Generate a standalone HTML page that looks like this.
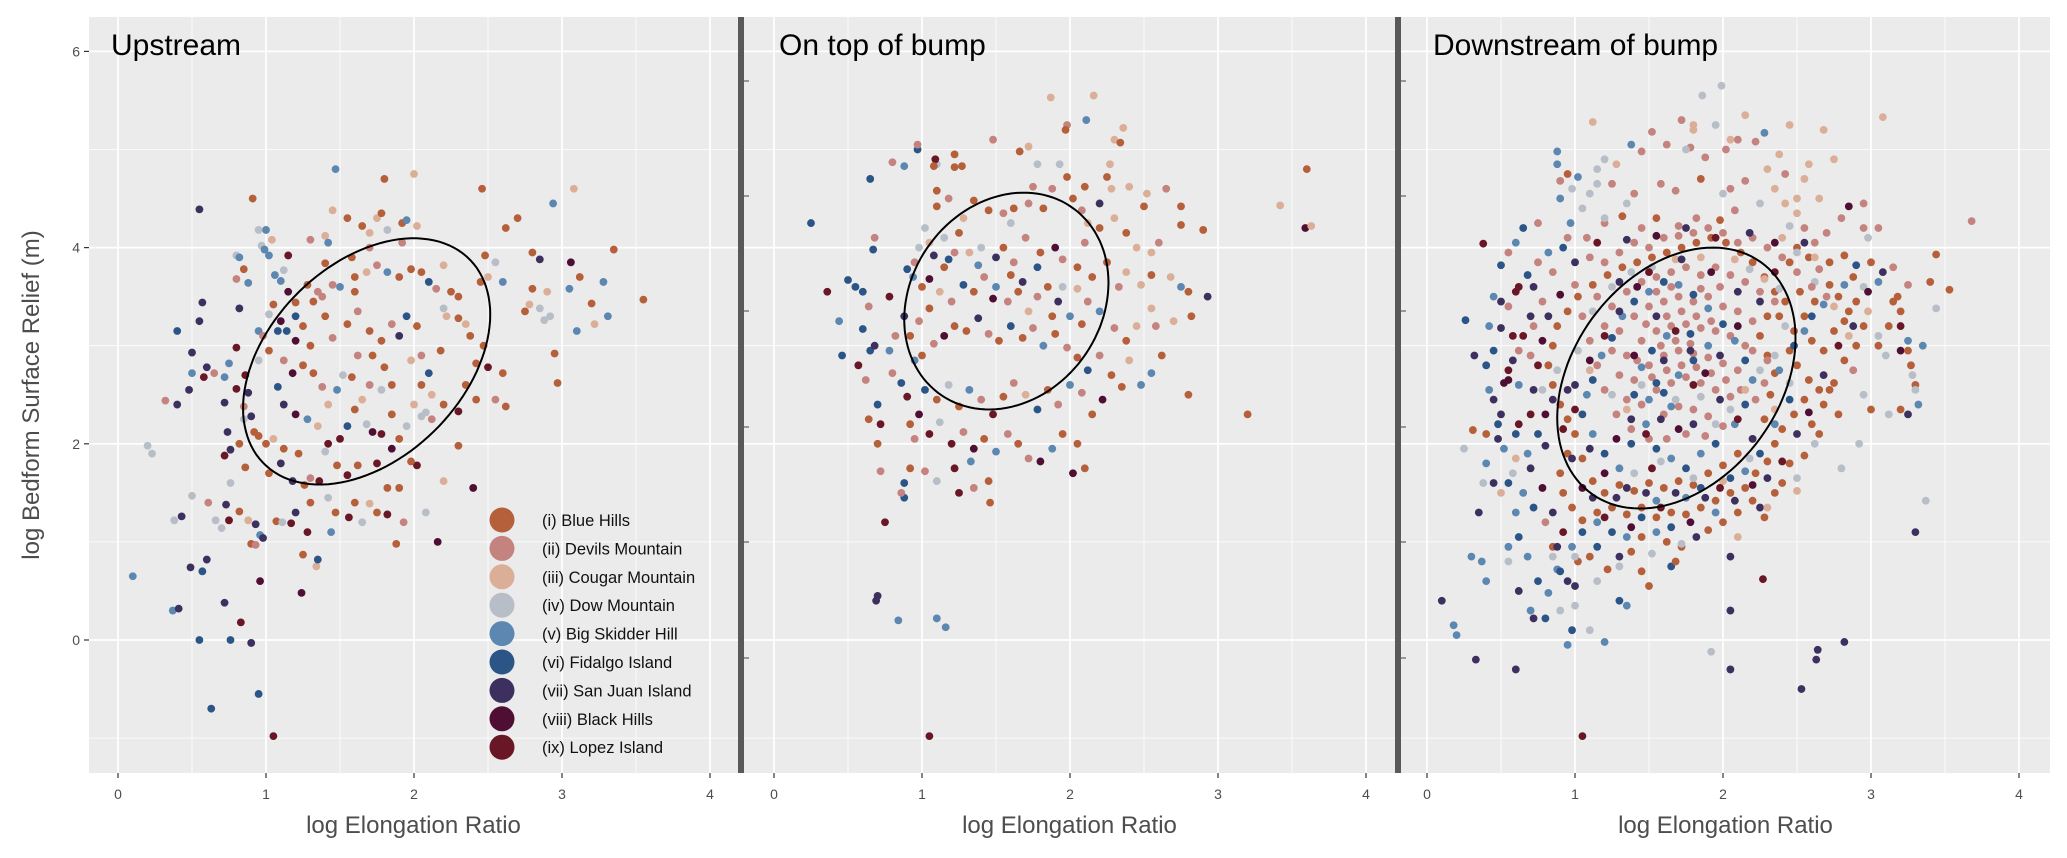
<!DOCTYPE html>
<html><head><meta charset="utf-8"><style>
html,body{margin:0;padding:0;background:#fff;}
svg{display:block;font-family:"Liberation Sans",Arial,sans-serif;}
</style></head><body>
<svg id="chart" width="2067" height="858" viewBox="0 0 2067 858" xmlns="http://www.w3.org/2000/svg">
<g id="bg"></g><g id="grid"></g><g id="pts"></g><g id="ells"></g><g id="axes"></g><g id="legend"></g>
</svg>
<script>
// ---- data ----
const panelTitles = ["Upstream", "On top of bump", "Downstream of bump"];
const siteNames = ["(i) Blue Hills","(ii) Devils Mountain","(iii) Cougar Mountain","(iv) Dow Mountain","(v) Big Skidder Hill","(vi) Fidalgo Island","(vii) San Juan Island","(viii) Black Hills","(ix) Lopez Island"];
const siteColors = ["#b5603a","#c4837f","#dbae98","#b7bec7","#5b87b1","#2b5487","#3d305f","#4f0f34","#691726"];
const xTicks = [0,1,2,3,4];
const yTicks = [0,2,4,6];
const ellCx = [1.68, 1.57, 1.685];
const ellCy = [2.84, 3.455, 2.67];
const ellAx = [0.835, 0.69, 0.805];
const ellAy = [1.255, 1.105, 1.33];
const ellPhi = [1.18, 1.4, 1.26];
// points as x, y, site triples
const upstreamPts = [
0.1,0.65,4, 0.2,1.98,3, 0.23,1.9,3, 0.32,2.44,1, 0.37,0.3,4, 0.41,0.32,6, 0.4,3.15,5, 0.55,4.39,6, 0.55,0.0,5, 0.63,-0.7,5, 0.95,-0.55,5, 1.05,-0.98,8,
0.91,4.5,0, 1.47,4.8,4, 1.8,4.7,0, 2.0,4.75,2, 2.46,4.6,0, 3.08,4.6,2, 2.94,4.45,4, 3.55,3.47,0, 3.35,3.98,0, 3.28,3.65,4, 3.31,3.3,4, 2.16,1.0,7,
2.4,1.55,7, 0.96,0.6,7, 0.83,0.18,8, 0.72,0.38,6, 0.9,-0.03,6, 0.76,0.0,5, 0.57,0.7,5, 0.6,0.82,6, 0.49,0.74,6, 1.88,0.98,0, 1.25,0.87,0, 1.34,0.75,2,
1.35,0.82,5, 1.24,0.48,7, 0.38,1.22,3, 0.43,1.26,6, 0.5,1.47,3, 0.61,1.4,1, 0.66,1.22,3, 0.7,1.14,3, 0.73,1.38,6, 0.75,1.22,8, 0.76,1.6,3, 0.82,1.31,0,
0.88,1.22,2, 0.9,0.98,0, 0.93,0.97,1, 0.93,1.18,6, 0.96,1.07,4, 0.98,1.04,6, 1.07,1.21,0, 1.11,1.2,3, 1.17,1.19,8, 1.2,1.3,6, 1.28,1.1,8, 1.3,1.4,0,
1.42,1.45,3, 1.44,1.1,4, 1.47,1.3,0, 1.56,1.25,8, 1.6,1.4,0, 1.65,1.2,3, 1.7,1.39,2, 1.75,1.3,0, 1.82,1.28,8, 1.93,1.2,1, 2.08,1.3,3, 2.2,1.62,2,
2.3,1.98,0, 1.9,1.55,0, 1.82,1.55,0, 0.4,2.4,6, 0.48,2.55,6, 0.5,2.72,4, 0.58,2.68,8, 0.6,2.78,6, 0.5,2.93,6, 0.55,3.25,6, 0.57,3.44,6, 0.65,2.72,1,
0.72,2.68,4, 0.75,2.82,4, 0.72,2.42,6, 0.74,2.12,6, 0.76,1.94,6, 0.72,1.88,8, 0.82,2.0,0, 0.85,2.25,3, 0.88,2.52,6, 0.9,2.28,6, 0.92,2.12,0, 0.95,2.08,0,
0.86,1.76,0, 0.85,2.38,1, 0.8,2.56,8, 0.86,2.7,8, 0.8,2.98,8, 0.82,3.38,6, 0.85,3.78,0, 0.8,3.68,1, 0.8,3.92,3, 0.82,3.9,4, 0.88,3.64,4, 0.95,4.18,3,
0.97,4.02,3, 0.99,3.98,4, 1.02,3.92,4, 1.0,4.18,4, 1.04,4.08,2, 1.06,3.72,4, 1.1,3.66,4, 1.12,3.77,3, 1.15,3.92,8, 1.15,3.55,7, 1.2,3.44,0, 1.05,3.42,0,
1.02,3.32,3, 0.95,3.15,4, 1.08,3.15,5, 1.14,3.15,5, 1.2,3.05,7, 1.25,3.2,0, 1.3,3.0,0, 1.32,3.45,0, 1.38,3.5,1, 1.4,3.3,0, 1.45,3.08,1, 1.4,3.84,0,
1.3,4.08,1, 1.4,4.12,2, 1.42,4.05,4, 1.45,4.38,2, 1.55,4.3,0, 1.65,4.22,0, 1.7,4.15,2, 1.75,4.3,2, 1.78,4.35,0, 1.92,4.25,0, 1.95,4.28,4, 2.02,4.22,2,
1.82,4.18,3, 1.92,4.05,1, 1.7,4.0,1, 1.58,3.9,0, 1.6,3.7,0, 1.68,3.75,2, 1.75,3.82,1, 1.82,3.75,4, 1.9,3.7,0, 1.98,3.78,0, 2.05,3.75,0, 2.1,3.65,5,
2.15,3.58,1, 2.2,3.82,2, 2.25,3.55,0, 2.3,3.5,0, 2.22,3.3,2, 2.2,3.38,3, 2.3,3.28,0, 2.38,3.1,0, 2.35,3.22,2, 2.45,3.65,0, 2.5,3.7,2, 2.48,3.92,0,
2.55,3.85,3, 2.6,3.65,4, 2.62,4.2,0, 2.7,4.3,0, 2.8,3.95,0, 2.8,3.58,0, 2.85,3.38,3, 2.9,3.55,2, 2.92,3.3,3, 2.88,3.26,3, 2.78,3.42,2, 2.75,3.35,0,
2.85,3.88,6, 3.06,3.85,7, 3.12,3.7,0, 3.2,3.43,0, 3.05,3.58,4, 3.1,3.15,4, 3.22,3.22,2, 2.95,2.92,0, 2.97,2.62,0, 2.55,2.45,1, 2.6,2.72,0, 2.62,2.38,0,
2.5,2.78,8, 2.47,3.0,0, 2.42,2.82,0, 2.35,2.6,0, 2.42,2.45,0, 2.3,2.33,8, 2.2,2.4,0, 2.12,2.25,1, 2.08,2.32,3, 2.0,2.4,2, 2.05,2.6,0, 2.1,2.72,5,
2.18,2.95,0, 2.05,2.9,1, 1.98,2.85,2, 1.9,3.1,6, 1.95,3.3,5, 2.02,3.2,0, 1.85,3.22,1, 1.78,3.05,0, 1.7,3.15,0, 1.62,3.35,1, 1.55,3.22,0, 1.62,2.9,1,
1.72,2.9,0, 1.8,2.78,0, 1.85,2.6,0, 1.78,2.55,3, 1.7,2.6,1, 1.65,2.45,2, 1.58,2.68,0, 1.52,2.7,3, 1.48,2.55,4, 1.42,2.4,2, 1.38,2.58,1, 1.32,2.72,0,
1.25,2.8,0, 1.18,2.72,7, 1.12,2.85,1, 1.08,2.58,5, 1.12,2.4,6, 1.2,2.3,7, 1.28,2.25,4, 1.35,2.18,2, 1.42,2.0,8, 1.5,2.05,8, 1.55,2.18,5, 1.6,2.35,0,
1.68,2.2,3, 1.72,2.12,7, 1.78,2.1,8, 1.85,2.3,0, 1.9,2.05,0, 1.95,2.18,3, 1.85,1.95,7, 1.75,1.8,8, 1.62,1.78,0, 1.55,1.68,8, 1.48,1.78,0, 1.4,1.92,3,
1.3,1.65,1, 1.22,1.9,0, 1.12,1.95,0, 1.05,2.05,2, 1.0,2.0,0, 1.1,1.8,6, 1.02,1.7,0, 1.18,1.62,6, 1.26,1.58,0, 1.36,1.62,8, 2.02,1.78,8, 1.98,1.82,0,
2.05,2.28,3, 2.12,2.5,2, 1.6,3.55,0, 1.5,3.6,4, 1.45,3.62,1, 1.35,3.55,1, 1.28,3.62,0, 1.2,3.3,5, 1.1,3.25,7, 1.02,2.95,0, 0.98,3.1,1, 0.95,2.85,3
];
const bumpPts = [
0.25,4.25,5, 0.36,3.55,8, 0.5,3.67,5, 0.55,3.6,5, 0.6,3.55,5, 0.65,2.95,5, 0.6,3.17,5, 0.7,0.45,6, 0.69,0.4,6, 0.84,0.2,4, 1.1,0.22,4, 1.16,0.13,4,
1.05,-0.98,8, 3.6,4.8,0, 3.42,4.43,2, 3.59,4.2,7, 3.63,4.22,2, 3.2,2.3,0, 2.8,2.5,0, 2.93,3.5,6, 1.87,5.53,2, 2.16,5.55,2, 2.11,5.3,4, 2.36,5.22,2,
0.75,1.2,8, 1.46,1.4,0, 0.88,1.6,5, 0.44,3.25,4, 0.46,2.9,5, 0.57,2.8,8, 0.68,3.0,6, 0.64,3.4,1, 0.68,4.1,1, 0.67,3.98,5, 0.65,4.7,5, 0.8,4.87,1,
0.88,4.83,4, 0.97,5.0,5, 0.97,5.05,1, 1.1,4.85,3, 1.09,4.9,8, 1.08,4.83,0, 1.22,4.82,0, 1.22,4.95,0, 1.27,4.83,0, 1.48,5.1,1, 1.66,4.98,0, 1.72,5.03,2,
1.78,4.85,3, 1.93,4.85,3, 1.98,5.25,1, 1.97,5.2,0, 2.3,5.1,2, 2.34,5.07,0, 2.27,4.85,2, 2.25,4.72,0, 2.28,4.6,2, 2.4,4.62,2, 2.52,4.55,2, 2.65,4.6,1,
2.75,4.42,0, 2.75,4.23,0, 2.9,4.18,0, 2.6,4.05,1, 2.55,3.95,2, 2.45,4.0,2, 2.38,4.15,0, 2.3,4.3,2, 2.2,4.2,0, 2.12,4.25,2, 2.2,4.45,6, 2.08,4.38,1,
2.02,4.5,0, 2.1,4.62,0, 1.98,4.72,0, 1.88,4.6,1, 1.82,4.4,0, 1.72,4.45,1, 1.62,4.4,0, 1.55,4.35,1, 1.45,4.38,0, 1.35,4.48,0, 1.28,4.3,2, 1.18,4.5,1,
1.1,4.58,0, 1.1,4.42,0, 1.02,4.2,3, 1.05,4.05,2, 0.98,4.0,3, 0.95,3.85,1, 0.9,3.78,5, 0.94,3.7,4, 1.0,3.6,0, 1.05,3.68,7, 1.15,3.8,0, 1.22,3.95,1,
1.32,3.95,2, 1.4,4.0,3, 1.5,3.9,6, 1.55,4.0,0, 1.62,3.85,1, 1.7,4.1,1, 1.8,3.95,0, 1.9,4.0,7, 1.95,3.88,1, 2.05,3.8,0, 2.15,3.7,0, 2.25,3.85,0,
2.33,3.6,1, 2.38,3.75,2, 2.48,3.62,2, 2.55,3.72,0, 2.68,3.7,2, 2.75,3.6,4, 2.8,3.55,0, 2.82,3.3,0, 2.7,3.25,2, 2.58,3.2,1, 2.55,3.38,2, 2.45,3.2,2,
2.38,3.05,0, 2.3,3.18,1, 2.2,3.35,4, 2.12,3.45,1, 2.08,3.22,0, 2.0,3.3,4, 1.92,3.45,6, 1.85,3.6,0, 1.78,3.5,1, 1.72,3.35,2, 1.65,3.55,0, 1.58,3.45,1,
1.5,3.6,4, 1.42,3.7,1, 1.35,3.55,0, 1.28,3.62,5, 1.2,3.45,1, 1.12,3.55,2, 1.05,3.38,0, 0.98,3.25,1, 0.92,3.1,0, 0.88,3.3,6, 0.82,3.1,1, 0.78,2.95,4,
0.8,2.72,1, 0.86,2.62,5, 0.9,2.48,8, 0.95,2.85,4, 1.0,2.9,0, 1.08,3.02,1, 1.15,3.1,7, 1.22,3.2,0, 1.3,3.15,0, 1.38,3.28,6, 1.45,3.12,1, 1.52,3.05,0,
1.6,3.2,5, 1.68,3.08,0, 1.75,3.18,1, 1.82,3.0,4, 1.9,3.12,0, 1.98,2.98,1, 2.05,2.88,0, 2.12,2.75,5, 2.2,2.9,1, 2.28,2.7,0, 2.4,2.85,2, 2.48,2.6,4,
2.55,2.72,4, 2.62,2.9,0, 2.35,2.58,0, 2.22,2.45,7, 2.15,2.3,0, 2.08,2.52,1, 2.0,2.6,4, 1.92,2.4,1, 1.85,2.55,0, 1.78,2.35,5, 1.7,2.5,2, 1.62,2.62,1,
1.55,2.48,0, 1.48,2.3,8, 1.4,2.45,1, 1.32,2.55,4, 1.25,2.38,0, 1.18,2.6,3, 1.1,2.45,0, 1.02,2.55,5, 0.98,2.3,7, 0.92,2.2,0, 0.95,2.05,1, 1.05,2.1,8,
1.12,2.22,3, 1.2,2.0,8, 1.28,2.12,1, 1.35,1.95,7, 1.42,2.05,0, 1.5,1.92,4, 1.58,2.1,1, 1.65,2.0,0, 1.72,1.85,1, 1.8,1.82,7, 1.88,1.95,4, 1.95,2.1,0,
2.02,1.7,7, 2.05,2.0,0, 2.1,1.75,0, 1.45,1.62,0, 1.35,1.55,1, 1.22,1.75,8, 1.1,1.62,3, 1.02,1.72,1, 0.92,1.75,0, 0.88,1.45,5, 0.86,1.5,1, 1.25,1.5,8,
1.33,1.82,4, 0.7,2.4,5, 0.7,2.0,0, 0.72,1.72,1, 0.72,2.2,8, 0.62,2.65,1, 0.64,2.25,0, 0.78,3.5,8, 1.15,4.1,3, 1.6,4.25,3, 1.75,4.62,1, 2.5,4.42,0,
1.6,3.72,0, 1.48,3.48,7, 1.68,3.65,6, 1.78,3.8,5, 1.88,3.3,0, 1.95,3.6,3, 2.05,3.58,2, 2.1,4.05,1, 1.25,4.15,0, 1.38,3.82,4, 1.18,3.88,5, 1.08,3.92,6
];
const downPts = [
0.1,0.4,6, 0.18,0.15,4, 0.2,0.05,4, 0.33,-0.2,6, 0.6,-0.3,6, 1.05,-0.98,8, 2.53,-0.5,6, 2.63,-0.2,6, 2.64,-0.1,6, 2.82,-0.02,6, 2.05,-0.3,6, 1.92,-0.12,3,
2.05,0.3,6, 2.27,0.62,8, 3.3,1.1,6, 3.37,1.42,3, 1.86,5.55,3, 1.99,5.65,3, 2.28,5.17,4, 2.15,5.35,2, 3.08,5.33,2, 3.68,4.27,1, 3.44,3.93,0, 3.53,3.57,0,
3.44,3.38,3, 0.38,4.04,8, 0.88,4.98,4, 1.38,5.05,4, 1.12,5.28,2, 0.26,3.26,5, 0.31,2.14,0, 0.4,2.1,0, 0.32,2.9,6, 0.9,4.5,4, 0.97,4.25,4, 1.1,4.55,3,
0.25,1.95,3, 0.4,1.8,4, 0.45,1.6,6, 0.35,1.3,6, 0.37,0.8,4, 0.4,0.6,4, 0.3,0.85,4, 0.55,0.95,4, 0.62,0.5,6, 0.7,0.3,4, 0.72,0.22,6, 0.8,0.22,5,
0.9,0.3,3, 0.95,-0.05,4, 0.98,0.1,5, 1.0,0.35,3, 1.1,0.1,3, 1.2,-0.02,4, 1.3,0.4,5, 1.35,0.35,4, 1.45,0.7,0, 1.5,0.55,0, 1.65,0.75,5, 1.68,0.8,0,
2.05,0.85,6, 2.25,1.35,6, 2.35,1.5,0, 2.5,1.65,3, 2.62,2.0,3, 2.65,2.1,0, 2.78,2.3,0, 2.72,2.55,0, 2.95,2.5,3, 2.88,2.75,1, 3.0,2.35,0, 3.2,2.35,0,
3.3,2.6,0, 3.3,2.55,3, 3.27,2.8,0, 3.2,2.95,7, 3.05,3.0,0, 3.12,3.2,0, 3.15,3.45,0, 3.2,3.35,0, 3.18,3.5,0, 3.35,3.0,4, 3.25,2.95,0, 3.4,3.65,0,
3.0,3.85,0, 2.98,4.1,3, 2.95,4.2,1, 2.8,4.3,1, 2.7,4.15,1, 2.62,4.05,1, 2.55,4.2,1, 2.5,4.35,2, 2.42,4.45,2, 2.35,4.6,2, 2.42,4.75,1, 2.55,4.7,2,
2.58,4.85,2, 2.38,4.95,2, 2.3,4.8,2, 2.22,5.08,1, 2.1,5.1,1, 2.02,5.0,1, 1.88,4.92,1, 1.78,5.02,1, 1.62,5.05,1, 1.8,5.2,2, 1.8,5.25,2, 1.72,5.3,1,
1.52,5.18,1, 1.45,4.98,1, 1.28,4.85,2, 1.15,4.8,3, 1.2,4.9,3, 0.95,4.75,0, 0.9,4.68,1, 1.25,4.65,1, 1.4,4.55,1, 1.58,4.65,1, 1.68,4.58,1, 1.85,4.7,0,
2.05,4.6,1, 2.15,4.68,1, 2.25,4.45,3, 2.08,4.38,1, 1.98,4.28,0, 1.82,4.3,1, 1.7,4.22,1, 1.55,4.3,0, 1.45,4.2,1, 1.32,4.32,0, 1.2,4.25,1, 1.08,4.1,1,
0.92,4.0,5, 0.82,3.95,4, 0.75,3.85,1, 0.72,3.6,6, 0.68,3.72,5, 0.6,3.55,8, 0.55,3.4,1, 0.5,3.18,6, 0.45,2.95,5, 0.55,2.75,8, 0.62,2.6,4, 0.7,2.3,8,
0.75,2.1,5, 0.8,1.98,6, 0.68,1.9,4, 0.6,2.1,5, 0.5,2.3,6, 0.58,1.7,3, 0.65,1.5,4, 0.72,1.35,5, 0.8,1.2,1, 0.85,0.95,0, 0.88,0.72,4, 0.95,0.6,6,
1.02,0.8,0, 1.1,0.85,0, 1.15,0.95,5, 1.22,0.72,0, 1.3,0.85,6, 1.38,0.9,0, 1.45,1.05,0, 1.55,1.1,4, 1.62,1.0,0, 1.72,0.95,0, 1.82,1.05,6, 1.9,1.12,0,
2.0,1.2,0, 2.1,1.3,0, 2.2,1.42,0, 2.28,1.25,0, 2.4,1.6,0, 2.45,1.8,0, 2.55,1.88,0, 2.6,2.2,0, 2.68,2.4,0, 2.75,2.62,0, 2.82,2.85,0, 2.9,3.0,0,
2.95,3.2,0, 2.85,3.35,0, 2.78,3.5,0, 2.72,3.62,0, 2.65,3.78,1, 2.58,3.9,0, 2.5,4.0,0, 2.45,3.85,0, 2.62,3.45,0, 2.55,3.3,0, 2.48,3.15,0, 2.6,3.05,0,
2.68,2.95,0, 2.75,3.15,0, 2.82,3.25,0, 2.9,3.45,0, 2.95,3.6,3, 2.88,3.7,0, 2.82,3.92,0, 2.72,3.85,0, 2.62,3.65,3, 2.52,3.55,0, 2.42,3.45,0, 2.38,3.3,0,
2.45,2.95,0, 2.5,2.8,0, 2.58,2.65,0, 2.65,2.55,0, 2.55,2.45,0, 2.48,2.3,0, 2.4,2.15,0, 2.35,2.0,0, 2.3,1.82,0, 2.22,1.7,0, 2.15,1.55,0, 2.05,1.5,0,
1.95,1.42,0, 1.85,1.35,0, 1.75,1.28,0, 1.65,1.3,0, 1.55,1.25,0, 1.45,1.35,0, 1.35,1.28,0, 1.25,1.35,0, 1.15,1.3,0, 1.05,1.22,0, 0.98,1.35,0, 0.92,1.5,0,
0.9,1.7,0, 0.95,1.9,0, 1.0,2.1,0, 1.05,1.85,0, 1.12,1.62,0, 1.2,1.5,0, 1.3,1.58,0, 1.4,1.52,0, 1.5,1.6,0, 1.6,1.55,0, 1.7,1.62,0, 1.8,1.58,0,
1.9,1.7,0, 2.0,1.78,0, 2.1,1.9,0, 2.2,2.05,0, 2.28,2.25,0, 2.32,2.5,0, 2.35,2.72,0, 2.3,2.9,0, 2.25,3.1,0, 2.3,3.3,0, 2.35,3.55,0, 2.28,3.7,0,
2.2,3.85,0, 2.12,3.95,0, 2.02,4.05,0, 1.92,4.1,0, 1.82,4.05,0, 1.72,4.0,0, 1.62,3.95,0, 1.52,3.9,0, 1.42,3.85,0, 1.32,3.8,0, 1.22,3.72,0, 1.12,3.62,0,
1.02,3.5,0, 0.95,3.35,0, 0.88,3.2,0, 0.85,3.0,0, 0.82,2.8,0, 0.85,2.6,0, 0.9,2.4,0, 0.95,2.25,0,
// Devils Mountain (dense core)
1.1,3.9,1, 1.2,3.85,1, 1.3,3.95,1, 1.4,4.05,1, 1.5,4.0,1, 1.6,4.1,1, 1.7,4.12,1, 1.8,4.15,1, 1.9,4.2,1, 2.0,4.15,1, 2.1,4.05,1, 2.2,4.1,1,
2.3,4.0,1, 2.4,3.9,1, 2.5,3.75,1, 2.6,3.6,1, 2.7,3.5,1, 1.15,3.5,1, 1.25,3.4,1, 1.35,3.55,1, 1.45,3.65,1, 1.55,3.7,1, 1.65,3.75,1, 1.75,3.8,1,
1.85,3.72,1, 1.95,3.8,1, 2.05,3.72,1, 2.15,3.65,1, 2.25,3.55,1, 2.35,3.45,1, 1.2,3.2,1, 1.3,3.15,1, 1.4,3.3,1, 1.5,3.4,1, 1.6,3.45,1, 1.7,3.5,1,
1.8,3.45,1, 1.9,3.5,1, 2.0,3.4,1, 2.1,3.35,1, 2.2,3.25,1, 1.25,2.95,1, 1.35,2.9,1, 1.45,3.05,1, 1.55,3.15,1, 1.65,3.2,1, 1.75,3.22,1, 1.85,3.18,1,
1.95,3.15,1, 2.05,3.1,1, 2.15,3.0,1, 1.3,2.7,1, 1.4,2.65,1, 1.5,2.8,1, 1.6,2.9,1, 1.7,2.95,1, 1.8,2.92,1, 1.9,2.88,1, 2.0,2.82,1, 2.1,2.75,1,
1.35,2.45,1, 1.45,2.4,1, 1.55,2.55,1, 1.65,2.62,1, 1.75,2.68,1, 1.85,2.62,1, 1.95,2.55,1, 2.05,2.48,1, 1.6,2.3,1, 1.7,2.38,1, 1.8,2.35,1, 1.9,2.28,1,
1.58,3.0,1, 1.68,3.05,1, 1.78,3.02,1, 1.48,3.22,1, 1.62,3.3,1, 1.72,3.35,1, 1.82,3.3,1, 1.92,3.25,1, 1.55,3.55,1, 1.65,3.6,1, 1.85,3.58,1, 1.98,3.6,1,
1.42,2.85,1, 1.52,2.68,1, 1.62,2.75,1, 1.72,2.8,1, 1.82,2.78,1, 1.92,2.72,1, 2.02,2.65,1, 2.12,2.55,1, 2.22,2.45,1, 2.28,2.62,1, 2.3,2.85,1, 2.2,2.95,1,
1.0,3.62,1, 1.05,3.3,1, 1.1,3.05,1, 1.15,2.8,1, 1.2,2.55,1, 1.28,2.3,1, 1.38,2.15,1, 1.5,2.05,1, 1.62,2.05,1, 1.75,2.1,1, 1.88,2.08,1, 2.0,2.18,1,
0.95,4.1,1, 0.85,3.75,1, 0.78,3.45,1, 0.72,3.2,1, 0.7,2.9,1, 0.62,2.95,1, 0.55,3.95,1, 0.75,4.25,1, 3.05,4.2,1, 3.15,3.8,1, 3.25,3.62,1, 2.95,4.45,1,
// Cougar Mountain / Dow Mountain
2.4,4.1,2, 2.5,4.5,2, 2.65,4.5,2, 2.75,4.9,2, 2.68,5.2,2, 2.45,5.25,2, 2.05,5.1,2, 1.95,5.25,3, 1.75,5.0,3, 2.0,4.55,3, 2.5,3.95,3, 2.62,3.9,2,
2.75,3.4,2, 2.85,3.1,2, 2.98,3.35,2, 3.05,3.1,3, 3.1,2.9,3, 3.28,2.7,3, 3.12,2.3,3, 2.92,2.0,3, 2.8,1.75,3, 2.5,1.52,2, 2.3,1.35,2, 2.1,1.05,2,
1.72,0.98,3, 1.52,0.88,3, 1.3,0.75,3, 1.15,0.6,3, 1.0,0.85,3, 0.85,0.85,3, 0.55,0.8,3, 0.38,1.6,3, 0.5,1.5,2, 0.6,1.85,2, 0.78,2.55,3, 0.88,2.75,3,
1.02,2.95,3, 1.12,3.35,3, 1.25,3.6,3, 1.38,3.75,3, 1.52,3.8,3, 1.68,3.88,2, 1.85,3.9,2, 2.08,3.88,2, 2.18,3.78,3, 2.28,3.68,2, 2.38,3.58,3, 2.42,3.2,3,
2.35,2.9,3, 2.25,2.75,3, 2.15,2.55,2, 2.05,2.35,3, 1.95,2.2,3, 1.85,2.48,3, 1.68,2.45,3, 1.45,2.6,3, 1.35,2.35,2, 1.25,2.5,3, 1.1,2.75,2, 1.4,1.7,3,
1.58,1.82,3, 1.8,1.65,3, 2.0,1.62,2, 2.18,1.85,3, 2.35,2.35,2, 2.45,2.62,3, 1.2,4.3,3, 1.35,4.45,3, 1.05,4.4,3, 0.98,4.6,3, 1.15,4.65,3, 2.45,4.22,3,
// Big Skidder Hill / Fidalgo Island
0.88,4.85,4, 1.02,4.72,4, 0.65,4.2,5, 0.6,4.05,4, 0.5,3.82,5, 0.45,3.5,4, 0.42,3.2,4, 0.4,2.8,5, 0.42,2.55,4, 0.48,2.2,5, 0.52,1.95,4, 0.55,1.6,5,
0.6,1.3,4, 0.62,1.05,5, 0.68,0.85,4, 0.75,0.6,5, 0.82,0.48,4, 0.9,0.7,5, 0.98,0.95,4, 1.05,1.1,5, 1.15,1.2,4, 1.25,1.1,5, 1.35,1.05,4, 1.45,1.25,5,
1.55,1.42,4, 1.65,1.15,5, 1.75,1.45,4, 1.85,1.55,5, 1.95,1.3,4, 2.05,1.65,5, 2.15,1.72,4, 2.25,1.9,5, 2.35,2.2,4, 2.45,2.45,5, 2.38,2.75,4, 2.48,3.0,5,
2.55,3.15,4, 2.6,3.3,5, 2.68,3.42,4, 2.82,3.62,4, 2.9,3.82,5, 3.05,3.65,4, 3.25,3.05,4, 3.32,2.4,4, 1.05,2.3,5, 1.12,2.1,4, 1.2,1.9,5, 1.3,1.75,4,
1.38,2.0,5, 1.48,2.2,4, 1.55,1.95,5, 1.65,1.85,4, 1.75,1.75,5, 1.85,1.9,4, 1.95,2.0,5, 2.08,2.2,4, 2.15,2.4,5, 2.2,2.65,4, 2.15,2.85,5, 2.08,3.05,4,
2.0,3.22,5, 1.9,3.38,4, 1.8,3.52,5, 1.7,3.62,4, 1.6,3.65,5, 1.5,3.55,4, 1.4,3.45,5, 1.32,3.3,4, 1.25,3.08,5, 1.18,2.9,4, 1.12,2.65,5, 1.08,2.5,4,
1.4,2.5,5, 1.5,2.45,4, 1.6,2.52,5, 1.7,2.7,4, 1.8,2.85,5, 1.9,3.0,4, 1.78,3.12,5, 1.62,3.1,4, 1.52,2.95,5, 1.45,2.78,4, 1.55,2.62,5, 1.65,2.38,4,
// San Juan / Black Hills / Lopez
0.45,2.45,6, 0.52,2.62,7, 0.58,2.85,6, 0.65,3.1,8, 0.7,3.3,6, 0.78,3.05,7, 0.85,2.45,6, 0.92,2.15,8, 0.98,1.85,6, 1.05,1.55,7, 1.12,1.45,6, 1.2,1.25,8,
1.28,1.45,6, 1.38,1.15,7, 1.48,1.5,6, 1.58,1.35,8, 1.68,1.5,6, 1.78,1.2,7, 1.88,1.45,6, 1.98,1.55,8, 2.08,1.42,6, 2.2,1.58,7, 2.3,1.65,6, 2.4,1.82,8,
2.5,2.1,6, 2.58,2.32,7, 2.68,2.7,6, 2.78,3.0,8, 2.88,3.2,6, 2.98,3.55,7, 3.08,3.75,6, 3.2,3.2,8, 3.25,2.3,6, 2.85,4.42,7, 2.55,4.05,6, 2.35,4.05,7,
2.18,4.15,6, 1.95,4.1,8, 1.75,4.2,6, 1.55,4.12,7, 1.35,4.08,6, 1.15,4.05,8, 1.0,3.85,6, 0.9,3.52,7, 0.82,3.3,6, 0.75,2.8,8, 0.72,2.55,6, 0.8,2.3,7,
1.0,2.6,6, 1.1,2.85,7, 1.2,3.1,8, 1.3,3.35,6, 1.42,3.6,7, 1.55,3.3,6, 1.68,3.15,8, 1.78,2.95,6, 1.88,2.72,7, 1.98,2.45,6, 2.1,2.25,8, 2.2,2.05,6,
1.28,2.05,7, 1.38,2.25,6, 1.48,2.1,8, 1.58,2.25,6, 1.7,2.15,7, 1.8,2.2,6, 1.52,1.75,8, 1.35,1.55,6, 1.2,1.7,7, 1.1,1.95,6, 1.0,2.35,8, 0.95,2.55,6,
1.4,2.9,7, 1.6,2.85,6, 1.8,2.6,8, 1.98,2.9,6, 2.1,3.2,7, 2.25,3.45,6, 2.35,3.75,8, 2.1,3.55,6, 1.92,3.75,7, 1.72,3.88,6, 1.5,3.75,8, 1.3,3.65,6,
0.58,3.1,8, 0.62,3.6,8, 0.5,3.45,6, 0.55,2.65,7, 0.48,2.05,6, 0.62,2.2,8, 0.7,1.75,6, 0.78,1.55,7, 0.85,1.3,6, 0.92,1.1,8, 1.0,0.55,6, 0.88,0.95,6
];
const panelData = [upstreamPts, bumpPts, downPts];

// ---- layout ----
const panelLeft = [89, 744, 1401], panelRight = [738, 1395, 2050];
const zeroX = [118, 774, 1427], unitX = 148;
const plotTop = 17, plotBottom = 773;
const zeroY = 640, unitY = 98.1;
const NS = "http://www.w3.org/2000/svg";
function sx(p, v){ return zeroX[p] + v*unitX; }
function sy(v){ return zeroY - v*unitY; }
function mk(tag, attrs, parent, text){
  const e = document.createElementNS(NS, tag);
  for (const k in attrs) e.setAttribute(k, attrs[k]);
  if (text !== undefined) e.textContent = text;
  parent.appendChild(e); return e;
}
const gBg = document.getElementById('bg'), gGrid = document.getElementById('grid'),
      gPts = document.getElementById('pts'), gEll = document.getElementById('ells'),
      gAx = document.getElementById('axes'), gLeg = document.getElementById('legend');

for (let p = 0; p < 3; p++){
  const r = mk('rect', {x: panelLeft[p], y: plotTop, width: panelRight[p]-panelLeft[p], height: plotBottom-plotTop, fill: '#ebebeb'}, gBg);
  
  
  // minor grid
  for (let v = -1; v <= 5; v += 2){
    const l = mk('line', {x1: panelLeft[p], x2: panelRight[p], y1: sy(v), y2: sy(v), stroke: '#fff', 'stroke-width': 0.8}, gGrid);
    
    
  }
  for (let v = 0.5; v < 4; v += 1){
    const l = mk('line', {x1: sx(p,v), x2: sx(p,v), y1: plotTop, y2: plotBottom, stroke: '#fff', 'stroke-width': 0.8}, gGrid);
    
    
  }
  yTicks.forEach(v => {
    const l = mk('line', {x1: panelLeft[p], x2: panelRight[p], y1: sy(v), y2: sy(v), stroke: '#fff', 'stroke-width': 1.7}, gGrid);
    
    
  });
  xTicks.forEach(v => {
    const l = mk('line', {x1: sx(p,v), x2: sx(p,v), y1: plotTop, y2: plotBottom, stroke: '#fff', 'stroke-width': 1.7}, gGrid);
    
    
    const t = mk('line', {x1: sx(p,v), x2: sx(p,v), y1: plotBottom, y2: plotBottom+5, stroke: '#333', 'stroke-width': 1.2}, gAx);
    
    
    const tl = mk('text', {x: sx(p,v), y: 799, 'text-anchor': 'middle', 'font-size': 14, fill: '#4d4d4d'}, gAx, String(v));
    
    
  });
  // points
  const d = panelData[p];
  for (let i = 0; i + 2 < d.length; i += 3){
    const c = mk('circle', {cx: sx(p, d[i]), cy: sy(d[i+1]), r: 3.9, fill: siteColors[d[i+2]]}, gPts);
    
    
  }
  // ellipse
  let path = '';
  for (let k = 0; k <= 120; k++){
    const t = k/120*2*Math.PI;
    const x = sx(p, ellCx[p] + ellAx[p]*Math.cos(t));
    const y = sy(ellCy[p] + ellAy[p]*Math.cos(t - ellPhi[p]));
    path += (k ? 'L' : 'M') + x.toFixed(1) + ',' + y.toFixed(1);
  }
  const e = mk('path', {d: path + 'Z', fill: 'none', stroke: '#000', 'stroke-width': 2}, gEll);
  
  
  const tt = mk('text', {x: [111, 779, 1433][p], y: 55, 'font-size': 30, fill: '#000'}, gAx, panelTitles[p]);
  
  
  const xt = mk('text', {x: (panelLeft[p]+panelRight[p])/2, y: 833, 'text-anchor': 'middle', 'font-size': 24, fill: '#4d4d4d'}, gAx, 'log Elongation Ratio');
  
  
}
// dark separators with small ticks
[738, 1395].forEach(x0 => {
  const b = mk('rect', {x: x0, y: plotTop, width: 6, height: plotBottom-plotTop, fill: '#595959'}, gAx);
  
  
  [81,196,311,427,542,658].forEach(y => {
    const t = mk('line', {x1: x0+6, x2: x0+11, y1: y, y2: y, stroke: '#444', 'stroke-width': 1}, gAx);
    
    
  });
});
// y axis
yTicks.forEach(v => {
  const t = mk('line', {x1: 84, x2: 89, y1: sy(v), y2: sy(v), stroke: '#333', 'stroke-width': 1.2}, gAx);
  
  
  const tl = mk('text', {x: 80, y: sy(v)+5, 'text-anchor': 'end', 'font-size': 14, fill: '#4d4d4d'}, gAx, String(v));
  
  
});
const yt = mk('text', {x: 0, y: 0, transform: 'translate(39,395) rotate(-90)', 'text-anchor': 'middle', 'font-size': 24, fill: '#4d4d4d'}, gAx, 'log Bedform Surface Relief (m)');


// legend
siteNames.forEach((n, i) => {
  const y = 520 + i*28.4;
  const c = mk('circle', {cx: 502, cy: y, r: 12.5, fill: siteColors[i]}, gLeg);
  
  
  const t = mk('text', {x: 542, y: y+6, 'font-size': 16.5, fill: '#111'}, gLeg, n);
  
  
});
</script>
</body></html>
